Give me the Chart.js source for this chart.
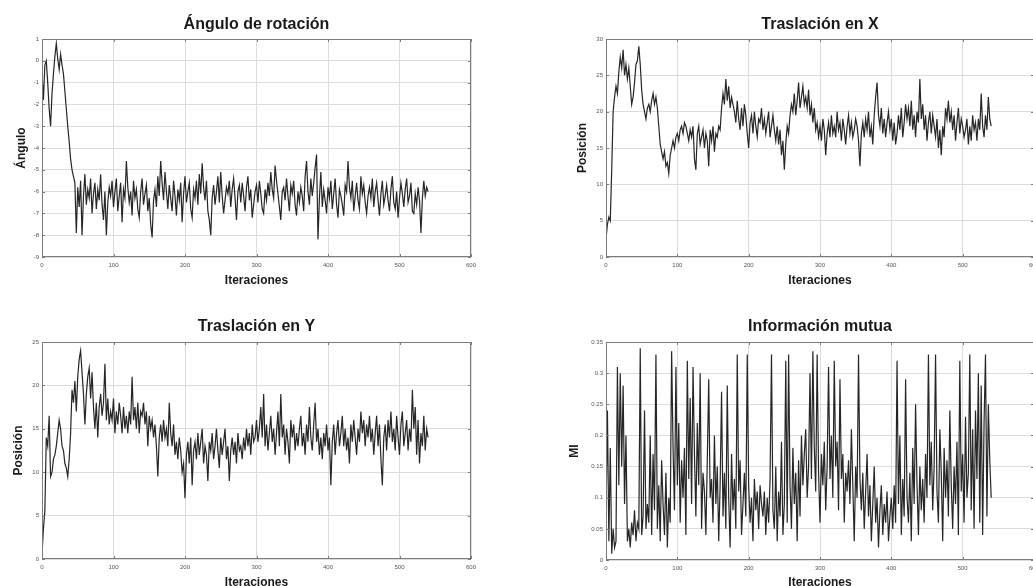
<!DOCTYPE html>
<html>
<head>
<meta charset="utf-8">
<script src="https://cdn.jsdelivr.net/npm/chart.js@4.4.1/dist/chart.umd.min.js"></script>
<style>
  html, body { margin: 0; padding: 0; background: #fff; overflow: hidden; }
  body { width: 1033px; height: 586px; position: relative; }
  canvas { position: absolute; }
</style>
</head>
<body>
<canvas id="cAngulo" width="500" height="290" style="left:0;top:0"></canvas>
<canvas id="cTrasX" width="474" height="290" style="left:560px;top:0"></canvas>
<canvas id="cTrasY" width="500" height="300" style="left:0;top:290px"></canvas>
<canvas id="cMI" width="474" height="300" style="left:560px;top:290px"></canvas>
<script>
// one sample every 2 iterations, 0..540
const paso = 2;

const angulo = [
  -0.5, -1.8, -0.2, 0.0, -1.0, -2.2, -3.0, -1.5, -0.6, 0.2,
  0.8, 0.1, -0.4, 0.3, -0.2, -0.6, -1.4, -2.2, -3.0, -3.7,
  -4.5, -5.0, -5.3, -5.6, -7.9, -5.8, -6.7, -5.5, -8.0, -6.2,
  -5.2, -6.6, -5.9, -6.3, -5.4, -7.0, -6.1, -5.6, -6.8, -5.9,
  -6.4, -5.2, -6.6, -7.3, -6.0, -8.0, -6.5, -5.8, -6.2, -5.5,
  -6.7, -6.0, -5.4, -6.9, -6.2, -5.6, -7.4, -5.9, -6.3, -4.6,
  -5.8, -6.5, -6.0, -7.1, -5.5, -6.3, -5.9, -6.8, -7.2, -6.0,
  -5.4, -6.6, -6.1, -5.7, -6.9, -6.3, -7.5, -8.1, -6.4, -5.9,
  -6.7, -5.3, -6.2, -4.6, -5.6, -6.4, -5.1, -6.0, -6.8, -5.7,
  -6.3, -6.9, -5.5, -6.2, -7.1, -5.9, -6.4, -5.6, -7.4, -6.1,
  -5.3, -6.5, -6.0, -5.6, -6.8, -7.2, -5.9, -6.3, -5.5, -6.6,
  -5.2, -6.1, -4.7, -5.8, -6.4, -5.5, -6.9, -7.3, -8.0, -6.3,
  -5.7, -6.6, -6.0, -5.3, -6.5, -5.1, -6.2, -7.0, -6.4, -5.8,
  -6.1, -5.5, -6.7, -5.9, -5.4, -6.3, -7.3, -6.0, -5.7, -6.5,
  -5.6, -6.2, -6.9, -5.8, -5.3, -6.4, -5.9, -7.2, -6.6, -6.0,
  -5.7, -6.5, -5.5, -6.1, -6.8, -7.0, -5.9, -6.4, -5.6, -6.2,
  -5.1, -5.9, -6.3, -4.8, -5.5, -6.1, -6.7, -7.3, -6.0, -5.8,
  -6.4, -5.4, -6.2, -6.9, -5.7, -6.1, -5.5, -6.6, -7.1, -6.0,
  -6.5, -5.8, -6.2, -6.9, -5.3, -4.6, -6.0, -6.6, -5.4, -6.2,
  -5.6, -4.9, -4.3, -8.2, -6.3, -5.1, -6.7, -5.9, -6.4, -7.0,
  -5.8, -6.3, -5.5, -6.8, -6.1, -5.4, -6.6, -7.2, -5.9, -6.2,
  -6.6, -7.1, -5.7, -6.0, -4.6, -5.8, -6.3, -5.5, -6.9, -6.2,
  -5.6, -6.4, -6.8, -5.3, -6.1, -5.7, -6.5, -7.0, -6.2, -5.8,
  -6.3, -5.4, -6.7, -6.0, -5.6, -6.4, -7.1, -6.1, -5.5, -6.6,
  -6.2, -5.7, -6.4, -6.9, -5.9, -5.3, -6.5, -6.8, -6.0, -7.2,
  -6.3, -5.6, -6.1, -6.7, -5.9, -5.4, -6.5, -6.2, -5.6, -6.9,
  -7.0, -6.1, -6.6, -5.8, -6.4, -7.9, -6.3, -5.5, -6.2, -5.8,
  -6.0
];

const traslacionX = [
  2.5, 4.5, 5.5, 5.0, 12.0, 20.0, 22.0, 23.5, 22.5, 25.5,
  27.5, 26.0, 28.5, 25.0, 26.5, 24.5, 26.0, 23.5, 21.0, 22.0,
  24.0, 26.5, 27.0, 29.0, 26.5, 23.0, 21.0, 20.0, 19.0, 20.5,
  21.0, 20.0, 21.5, 22.5, 21.0, 22.0, 20.5, 18.0, 15.5, 14.5,
  13.5, 14.5, 12.5, 13.0, 11.5, 14.0, 15.0, 16.0, 15.0, 16.5,
  17.0, 16.0, 17.5, 18.0, 17.0, 18.5, 18.0, 17.0, 16.0, 17.5,
  16.5, 18.0, 13.5, 12.0, 17.0, 18.0, 15.5, 16.5, 17.5, 15.0,
  17.0, 16.0, 12.5, 17.5, 16.0, 18.0, 14.5, 17.0, 16.5, 18.0,
  17.5, 20.5, 22.5, 21.0, 24.5, 21.5, 23.5, 20.5, 22.0, 21.0,
  20.0, 18.5, 21.5, 19.0, 17.5, 20.5, 18.0, 21.0, 19.5, 17.0,
  15.0, 18.5, 19.5, 17.0, 20.0, 18.0, 16.5, 19.0, 18.5, 20.5,
  17.5, 19.0, 17.0, 18.5, 20.0, 16.5, 18.0, 19.5, 17.5, 16.0,
  18.0, 15.5, 17.5, 14.0, 16.0, 12.0, 15.5, 18.0, 17.0, 19.5,
  21.0, 20.0, 22.5, 19.5, 21.5, 24.0, 20.5, 22.0, 23.5, 21.0,
  22.0, 20.5, 23.0, 19.5, 21.0, 18.5, 20.5, 17.5, 18.5, 16.5,
  18.0, 16.0, 19.0, 17.5, 14.0, 17.0, 18.5, 16.5, 19.5, 17.0,
  18.0, 16.5, 20.0, 17.5, 18.5, 16.0, 19.0, 17.5, 15.5, 18.0,
  19.5, 17.0, 18.5, 16.5, 17.5, 19.0, 18.0, 16.0, 12.5, 17.0,
  18.5, 16.5, 19.0, 17.5, 20.0, 16.5, 18.0, 15.5, 19.5, 22.0,
  24.0, 19.5, 18.0, 20.5, 17.0, 19.0, 16.5, 18.5, 20.0, 17.5,
  19.0, 16.0, 18.5, 15.5, 17.0, 19.5, 17.5, 20.5, 16.5, 18.5,
  21.0, 19.0, 20.5, 18.0, 21.5, 17.5, 19.5, 16.5, 20.0, 18.5,
  24.5, 19.0, 21.0, 17.5, 19.5, 16.0, 18.5, 20.0, 17.0, 19.5,
  18.0, 16.5, 19.0, 15.0, 17.5, 14.0, 18.0, 16.5, 20.5, 19.0,
  21.5, 18.5, 20.0, 17.5, 19.5, 16.0, 18.5, 20.5, 17.0, 19.0,
  18.0, 16.5, 17.5, 19.0, 15.5, 18.0, 16.0, 19.5, 17.5, 18.5,
  16.0, 19.0, 17.5, 22.5, 18.0, 16.5, 19.5, 17.5, 22.0, 19.0,
  18.0
];

const traslacionY = [
  0.5, 3.5, 5.5, 14.0, 13.0, 16.5, 9.5, 10.0, 11.5, 12.0,
  13.0, 14.5, 16.0, 15.0, 13.0, 12.5, 11.0, 10.5, 9.5, 11.5,
  14.5, 19.5, 18.0, 20.5, 17.0, 21.0, 23.0, 24.0, 21.5, 19.0,
  15.5, 19.0, 21.0, 22.0, 18.5, 21.5, 17.5, 15.0, 18.0, 14.0,
  17.5, 19.0, 16.5, 18.0, 22.5, 16.0, 18.5, 15.5, 17.0, 16.0,
  18.5, 14.5, 17.0, 15.5, 18.0, 16.5, 14.5, 17.5, 15.0, 16.5,
  14.5, 17.0, 15.5, 21.0, 16.0, 17.5, 15.0, 18.0, 14.5, 17.0,
  16.5, 18.0, 15.5, 17.0, 13.0, 16.5, 15.0, 16.0, 14.0, 15.5,
  13.0, 9.5, 14.0, 15.5, 13.5, 16.0, 14.0, 15.0, 13.0, 18.0,
  14.5, 13.0, 15.5, 12.0, 13.5, 11.5, 14.0, 12.5, 10.0, 11.0,
  7.0, 12.0, 13.5, 11.0, 14.0, 8.5, 12.5, 13.5, 11.5, 14.5,
  12.0, 13.5, 15.0, 11.0, 13.0, 12.0, 9.0, 13.5, 12.5, 14.5,
  11.5, 13.0, 15.0, 12.5, 10.5, 14.0, 12.0, 13.5, 15.0, 11.5,
  13.0, 9.0, 12.5, 14.0, 12.0, 13.5, 11.0, 14.5, 12.5, 13.0,
  11.5, 14.0, 12.5, 15.0, 13.0, 14.5, 12.0, 15.5, 13.5, 14.0,
  16.0, 13.5, 15.0, 17.5, 14.0, 19.0, 13.0, 15.5, 12.5, 14.5,
  16.5, 13.5, 15.0, 12.0, 14.5, 17.0, 13.0, 19.0, 14.0, 15.5,
  12.0, 15.0, 13.5, 11.0, 16.0, 14.0, 15.5, 12.5, 14.5, 13.0,
  15.0, 16.5, 13.0, 14.5, 12.0, 15.5, 13.5, 17.5, 14.0, 12.5,
  15.5, 18.0, 13.5, 15.0, 12.0, 14.0, 11.5, 14.5, 13.0, 15.5,
  12.5, 14.0, 8.5, 13.5, 15.5, 12.0, 14.5, 16.0, 13.0, 14.5,
  16.5, 13.0, 15.0, 12.5, 14.0, 11.0, 15.5, 13.5, 16.0, 14.0,
  12.0, 15.0, 13.5, 17.0, 14.5, 16.0, 13.0, 15.5, 14.0, 16.5,
  13.5, 15.0, 12.0, 14.5, 16.5, 13.0, 15.5, 11.5, 8.5, 14.0,
  15.5, 12.5, 16.0, 14.0, 17.0, 13.5, 15.0, 12.5, 16.5, 14.0,
  12.0, 15.5, 17.0, 13.0, 14.5, 16.0, 12.5, 15.0, 13.5, 19.5,
  15.0, 17.5, 12.0, 16.0, 11.0, 14.5, 13.0, 16.5, 12.5, 15.0,
  14.0
];

const infoMutua = [
  0.07, 0.24, 0.03, 0.18, 0.01, 0.05, 0.02, 0.03, 0.31, 0.12,
  0.30, 0.15, 0.28, 0.09, 0.20, 0.03, 0.05, 0.02, 0.06, 0.04,
  0.08, 0.03, 0.06, 0.05, 0.34, 0.04, 0.07, 0.24, 0.05, 0.09,
  0.06, 0.20, 0.04, 0.17, 0.08, 0.33, 0.05, 0.12, 0.03, 0.16,
  0.09, 0.04, 0.14, 0.02, 0.10, 0.06, 0.335, 0.18, 0.08, 0.31,
  0.12, 0.22, 0.06, 0.16, 0.10, 0.18, 0.04, 0.32, 0.13, 0.26,
  0.09, 0.31, 0.17, 0.07, 0.22, 0.12, 0.30, 0.05, 0.14, 0.11,
  0.04, 0.16, 0.29, 0.10, 0.13, 0.06, 0.20, 0.09, 0.15, 0.03,
  0.12, 0.27, 0.07, 0.14, 0.05, 0.28, 0.10, 0.02, 0.17, 0.08,
  0.13, 0.05, 0.33, 0.11, 0.16, 0.04, 0.09, 0.14, 0.07, 0.33,
  0.12, 0.06, 0.10, 0.03, 0.13, 0.08, 0.11, 0.05, 0.12, 0.09,
  0.07, 0.11, 0.04, 0.10, 0.06, 0.13, 0.33, 0.08, 0.05, 0.15,
  0.03, 0.11, 0.07, 0.19, 0.04, 0.09, 0.32, 0.06, 0.33, 0.12,
  0.05, 0.18, 0.09, 0.14, 0.03, 0.16, 0.07, 0.20, 0.12, 0.17,
  0.21, 0.10, 0.15, 0.30, 0.13, 0.335, 0.18, 0.11, 0.33, 0.14,
  0.06, 0.17, 0.12, 0.19, 0.08, 0.15, 0.31, 0.13, 0.20, 0.10,
  0.32, 0.15, 0.19, 0.08, 0.29, 0.13, 0.17, 0.06, 0.14, 0.11,
  0.16, 0.09, 0.21, 0.12, 0.03, 0.15, 0.10, 0.33, 0.13, 0.08,
  0.14, 0.05, 0.11, 0.17, 0.07, 0.12, 0.03, 0.09, 0.15, 0.06,
  0.10, 0.02, 0.08, 0.12, 0.04, 0.09, 0.06, 0.11, 0.03, 0.07,
  0.10, 0.05, 0.12, 0.06, 0.32, 0.09, 0.20, 0.04, 0.13, 0.07,
  0.29, 0.10, 0.06, 0.14, 0.03, 0.18, 0.09, 0.25, 0.12, 0.04,
  0.15, 0.08, 0.13, 0.06, 0.17, 0.10, 0.33, 0.12, 0.19, 0.08,
  0.15, 0.33, 0.11, 0.06, 0.21, 0.14, 0.03, 0.18, 0.10, 0.16,
  0.07, 0.24, 0.12, 0.05, 0.15, 0.09, 0.19, 0.04, 0.32, 0.11,
  0.17, 0.06, 0.23, 0.10, 0.14, 0.33, 0.08, 0.21, 0.05, 0.24,
  0.13, 0.30, 0.06, 0.28, 0.04, 0.22, 0.33, 0.07, 0.25, 0.16,
  0.10
];

const FONT = "'Liberation Sans', Arial, sans-serif";

// box round the plot area with small inward ticks, like matlab
const marco = {
  id: "marco",
  afterDatasetsDraw(chart) {
    const { ctx, chartArea: a, scales } = chart;
    ctx.save();
    ctx.strokeStyle = "#7c7c7c";
    ctx.lineWidth = 1;
    ctx.strokeRect(a.left + 0.5, a.top + 0.5, a.width - 1, a.height - 1);
    ctx.beginPath();
    scales.x.ticks.forEach((t) => {
      const px = Math.round(scales.x.getPixelForValue(t.value)) + 0.5;
      ctx.moveTo(px, a.bottom);
      ctx.lineTo(px, a.bottom - 3);
      ctx.moveTo(px, a.top);
      ctx.lineTo(px, a.top + 3);
    });
    scales.y.ticks.forEach((t) => {
      const py = Math.round(scales.y.getPixelForValue(t.value)) + 0.5;
      ctx.moveTo(a.left, py);
      ctx.lineTo(a.left + 3, py);
      ctx.moveTo(a.right, py);
      ctx.lineTo(a.right - 3, py);
    });
    ctx.stroke();
    ctx.restore();
  },
};

function buildPlot(id, cfg) {
  const puntos = cfg.values.map((v, i) => ({ x: i * paso, y: v }));
  return new Chart(document.getElementById(id), {
    type: "line",
    data: {
      datasets: [
        {
          data: puntos,
          borderColor: "#262626",
          borderWidth: 1.2,
          pointRadius: 0,
          tension: 0,
        },
      ],
    },
    options: {
      responsive: false,
      animation: false,
      events: [],
      layout: { autoPadding: false, padding: { right: cfg.padRight } },
      plugins: {
        legend: { display: false },
        tooltip: { enabled: false },
        title: {
          display: true,
          fullSize: false,
          text: cfg.title,
          color: "#1a1a1a",
          font: { family: FONT, size: 16, weight: "bold" },
          padding: { top: cfg.titleTop, bottom: cfg.titleBottom },
        },
      },
      scales: {
        x: {
          type: "linear",
          min: 0,
          max: 600,
          afterFit: (s) => {
            s.height = cfg.xHeight;
            s.paddingLeft = 0;
            s.paddingRight = 0;
          },
          ticks: {
            stepSize: 100,
            padding: 5,
            maxRotation: 0,
            color: "#555",
            font: { family: FONT, size: 6 },
          },
          grid: { color: "#dcdcdc", drawTicks: false },
          border: { display: false },
          title: {
            display: true,
            text: "Iteraciones",
            color: "#1a1a1a",
            font: { family: FONT, size: 12, weight: "bold" },
            padding: { top: 0, bottom: cfg.xTitleBottom },
          },
        },
        y: {
          min: cfg.yMin,
          max: cfg.yMax,
          afterFit: (s) => {
            s.width = cfg.yWidth;
            s.paddingTop = 0;
            s.paddingBottom = 0;
          },
          ticks: {
            stepSize: cfg.yStep,
            padding: 3,
            color: "#555",
            font: { family: FONT, size: 6 },
            callback: (v) => String(Number(v.toFixed(2))),
          },
          grid: { color: "#dcdcdc", drawTicks: false },
          border: { display: false },
          title: {
            display: true,
            text: cfg.yLabel,
            color: "#1a1a1a",
            font: { family: FONT, size: 12, weight: "bold" },
            padding: { top: cfg.yTitleTop, bottom: 0 },
          },
        },
      },
    },
    plugins: [marco],
  });
}

buildPlot("cAngulo", {
  values: angulo,
  title: "Ángulo de rotación",
  yLabel: "Ángulo",
  yMin: -9, yMax: 1, yStep: 1,
  yWidth: 42, padRight: 29,
  titleTop: 15.4, titleBottom: 4.4,
  xHeight: 33, xTitleBottom: 2,
  yTitleTop: 14,
});

buildPlot("cTrasX", {
  values: traslacionX,
  title: "Traslación en X",
  yLabel: "Posición",
  yMin: 0, yMax: 30, yStep: 5,
  yWidth: 46, padRight: 0,
  titleTop: 15.4, titleBottom: 4.4,
  xHeight: 33, xTitleBottom: 2,
  yTitleTop: 15,
});

buildPlot("cTrasY", {
  values: traslacionY,
  title: "Traslación en Y",
  yLabel: "Posición",
  yMin: 0, yMax: 25, yStep: 5,
  yWidth: 42, padRight: 29,
  titleTop: 27.4, titleBottom: 5.4,
  xHeight: 31, xTitleBottom: 0,
  yTitleTop: 11,
});

buildPlot("cMI", {
  values: infoMutua,
  title: "Información mutua",
  yLabel: "MI",
  yMin: 0, yMax: 0.35, yStep: 0.05,
  yWidth: 46, padRight: 0,
  titleTop: 27.4, titleBottom: 5.4,
  xHeight: 30, xTitleBottom: 0,
  yTitleTop: 7,
});
</script>
</body>
</html>
